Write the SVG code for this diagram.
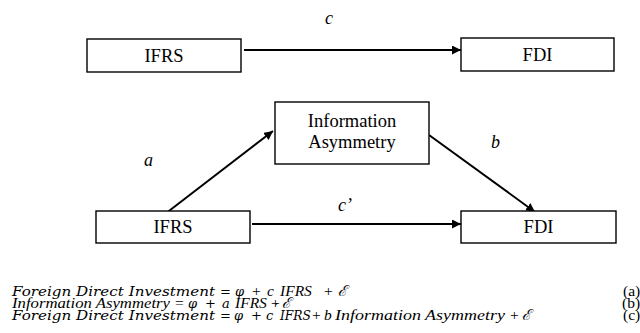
<svg xmlns="http://www.w3.org/2000/svg" width="640" height="333" viewBox="0 0 640 333">
  <defs>
    <marker id="arrow" viewBox="0 0 10 10" refX="10" refY="5" markerWidth="4.5" markerHeight="4.5" orient="auto" markerUnits="strokeWidth">
      <path d="M0,0 L10,5 L0,10 Z" fill="#000"/>
    </marker>
    <style>
      .box { fill: #fff; stroke: #000; stroke-width: 1.4; }
      .lbl { font-family: "Liberation Serif", "Times New Roman", serif; font-size: 18.5px; fill: #000; text-anchor: middle; }
      .coef { font-family: "Liberation Serif", "Times New Roman", serif; font-size: 18px; font-style: italic; fill: #000; }
      .edge { fill: none; stroke: #000; stroke-width: 2; marker-end: url(#arrow); }
      .tm { font-family: "Liberation Serif", "Times New Roman", serif; font-size: 15.5px; font-style: italic; fill: #000; }
      .tmu { font-family: "Liberation Serif", "Times New Roman", serif; font-size: 15.5px; fill: #000; }
      .cm { font-family: "DejaVu Serif", serif; font-size: 13px; font-style: italic; fill: #000; }
      .cmu { font-family: "DejaVu Serif", serif; font-size: 13px; fill: #000; }
      .scr { font-family: "DejaVu Serif", serif; font-size: 15px; font-style: italic; fill: #000; }
    </style>
  </defs>

  <rect width="640" height="333" fill="#fff"/>

  <!-- connectors -->
  <g id="connectors">
    <line class="edge" x1="244" y1="50" x2="461" y2="50"/>
    <line class="edge" x1="165" y1="214" x2="273" y2="131"/>
    <line class="edge" x1="429" y1="135" x2="535" y2="212"/>
    <line class="edge" x1="252" y1="224" x2="461" y2="224"/>
  </g>

  <!-- path coefficients -->
  <g id="coefficients">
    <text class="coef" x="325" y="24">c</text>
    <text class="coef" x="144" y="166">a</text>
    <text class="coef" x="491" y="148">b</text>
    <text class="coef" x="338" y="211">c’</text>
  </g>

  <!-- total effect model -->
  <g id="ifrs-top">
    <rect class="box" x="87" y="39" width="154" height="33"/>
    <text class="lbl" x="164" y="62">IFRS</text>
  </g>
  <g id="fdi-top">
    <rect class="box" x="461" y="38" width="153" height="33"/>
    <text class="lbl" x="537.5" y="61">FDI</text>
  </g>

  <!-- mediation model -->
  <g id="info-asym">
    <rect class="box" x="275" y="102" width="154" height="62"/>
    <text class="lbl" x="352" y="127">Information</text>
    <text class="lbl" x="352" y="148">Asymmetry</text>
  </g>
  <g id="ifrs-bottom">
    <rect class="box" x="96" y="211" width="154" height="32"/>
    <text class="lbl" x="173" y="233">IFRS</text>
  </g>
  <g id="fdi-bottom">
    <rect class="box" x="461" y="211" width="155" height="32"/>
    <text class="lbl" x="538.5" y="233">FDI</text>
  </g>

  <!-- regression equations -->
  <g id="equations">
    <!-- (a) -->
    <text class="cm" x="12" y="296" textLength="203" lengthAdjust="spacingAndGlyphs">Foreign Direct Investment</text>
    <text class="cmu" x="220" y="296">=</text>
    <text class="cm" x="235" y="296">φ</text>
    <text class="tmu" x="252" y="296">+</text>
    <text class="tm" x="267" y="296">c</text>
    <text class="tm" x="280" y="296">IFRS</text>
    <text class="tmu" x="324" y="296">+</text>
    <text class="scr" x="338" y="296">ℰ</text>
    <text class="tmu" x="623" y="296">(a)</text>

    <!-- (b) -->
    <text class="tm" x="12" y="308" textLength="158" lengthAdjust="spacingAndGlyphs">Information Asymmetry</text>
    <text class="tmu" x="175" y="308">=</text>
    <text class="cm" x="188" y="308">φ</text>
    <text class="cmu" x="205" y="308">+</text>
    <text class="cm" x="222" y="308">a</text>
    <text class="tm" x="235" y="308">IFRS</text>
    <text class="tmu" x="271" y="308">+</text>
    <text class="scr" x="282" y="308">ℰ</text>
    <text class="tmu" x="622" y="308">(b)</text>

    <!-- (c) -->
    <text class="cm" x="12" y="320" textLength="203" lengthAdjust="spacingAndGlyphs">Foreign Direct Investment</text>
    <text class="cmu" x="220" y="320">=</text>
    <text class="cm" x="234" y="320">φ</text>
    <text class="cmu" x="251" y="320">+</text>
    <text class="cm" x="266" y="320">c</text>
    <text class="cmu" x="275" y="313" font-size="8">′</text>
    <text class="cm" x="280" y="320" textLength="31" lengthAdjust="spacingAndGlyphs">IFRS</text>
    <text class="tmu" x="312" y="320">+</text>
    <text class="tm" x="324" y="320">b</text>
    <text class="tm" x="335" y="320" textLength="170" lengthAdjust="spacingAndGlyphs">Information Asymmetry</text>
    <text class="tmu" x="510" y="320">+</text>
    <text class="scr" x="522" y="320">ℰ</text>
    <text class="tmu" x="623" y="320">(c)</text>
  </g>
</svg>
